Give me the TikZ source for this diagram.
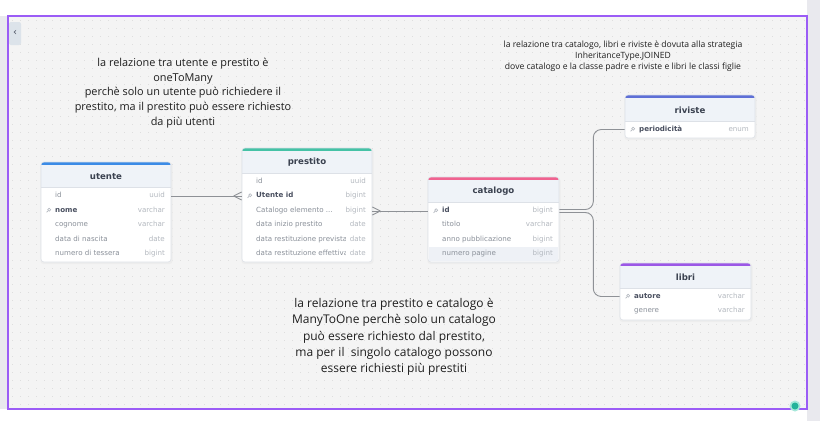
\documentclass[tikz,border=0pt]{standalone}
\usepackage{fontspec}
\setmainfont{DejaVu Sans}
\newfontfamily\notefont{Open Sans}
\usetikzlibrary{calc,fit}
\definecolor{framepurple}{HTML}{9B5CF6}
\definecolor{canvasbg}{HTML}{F4F4F4}
\definecolor{sidebg}{HTML}{E9E9EE}
\definecolor{gridcol}{HTML}{DEDEDE}
\definecolor{bordercol}{HTML}{DDE1E7}
\definecolor{hdrfill}{HTML}{EFF3F8}
\definecolor{titlecol}{HTML}{3B4250}
\definecolor{namecol}{HTML}{8A9099}
\definecolor{keycol}{HTML}{4A5060}
\definecolor{typecol}{HTML}{B3B8BF}
\definecolor{conncol}{HTML}{8E9196}
\definecolor{cblue}{HTML}{3B8BE6}
\definecolor{cteal}{HTML}{45C2A6}
\definecolor{cpink}{HTML}{F0628F}
\definecolor{cindigo}{HTML}{5E6FD6}
\definecolor{cpurple}{HTML}{9B57E6}
\definecolor{notecol}{HTML}{1E1E1E}
\definecolor{btnfill}{HTML}{DCE3EA}
\definecolor{dotteal}{HTML}{22B39A}
\definecolor{dotring}{HTML}{A6E8DA}
\definecolor{rowhl}{HTML}{EEF1F6}
\tikzset{
  tbltitle/.style={font=\fontsize{8.6}{11}\selectfont\bfseries, text=titlecol, inner sep=0},
  rowname/.style={font=\fontsize{7.1}{9}\selectfont, text=namecol, inner sep=0, text height=5.3pt, text depth=1.5pt, anchor=west},
  keyname/.style={rowname, text=keycol, font=\fontsize{7.1}{9}\selectfont\bfseries},
  rowtype/.style={font=\fontsize{7.1}{9}\selectfont, text=typecol, inner sep=0, text height=5.3pt, text depth=1.5pt, anchor=east},
  conn/.style={draw=conncol, line width=0.9pt},
  keyicon/.style={draw=typecol, line width=0.6pt},
  note/.style={font=\notefont, text=notecol, align=center, inner sep=0},
  tblbox/.style={inner sep=0, draw=bordercol, line width=0.6pt, rounded corners=3pt}
}
% #1 name, #2 x0, #3 y0, #4 x1, #5 y1, #6 header bottom, #7 colour, #8 title
\newcommand\erdtab[8]{%
  \fill[black!7, rounded corners=3pt] (#2-0.5,#3+0.5) rectangle (#4+1.5,#5+2);
  \fill[white, rounded corners=3pt] (#2,#3) rectangle (#4,#5);
  \begin{scope}
    \clip[rounded corners=3pt] (#2,#3) rectangle (#4,#5);
    \fill[hdrfill] (#2,#3) rectangle (#4,#6);
    \fill[#7] (#2,#3) rectangle (#4,#3+3);
  \end{scope}
  \draw[bordercol, line width=0.6pt] (#2,#6) -- (#4,#6);
  \node[tblbox, fit={(#2,#3) (#4,#5)}] (#1) {};
  \node[tbltitle] (#1-title) at ({(#2+#4)/2},{(#3+#6)/2+2}) {#8};
}
% #1 x0, #2 x1, #3 y, #4 name, #5 label, #6 type
\newcommand\erdrow[6]{%
  \node[rowname] (#4) at (#1+14,#3) {#5};
  \node[rowtype] (#4-t) at (#2-6,#3) {#6};
}
\newcommand\erdkey[6]{%
  \draw[keyicon] (#1+8.2,#3-0.8) circle (1.5pt);
  \draw[keyicon] (#1+7.1,#3+0.3) -- (#1+5.6,#3+1.8);
  \node[keyname] (#4) at (#1+14,#3) {#5};
  \node[rowtype] (#4-t) at (#2-6,#3) {#6};
}
\begin{document}
\begin{tikzpicture}[x=1pt,y=-1pt]
\useasboundingbox (0,0) rectangle (820,421);
% page background
\fill[white] (0,0) rectangle (820,421);
\fill[sidebg] (807,0) rectangle (820,421);
\fill[sidebg] (0,16) rectangle (8,409);
% canvas
\fill[canvasbg] (8,16) rectangle (807,409);
\foreach \gy in {20,28,...,404}{
  \draw[gridcol, line width=0.8pt, dash pattern=on 0.8pt off 7.2pt] (12,\gy) -- (805,\gy);
}
\draw[framepurple, line width=2pt] (8,16) rectangle (807,409);
% collapse button
\fill[btnfill, rounded corners=2pt] (9,22) rectangle (21,45);
\node[font=\fontsize{10}{11}\selectfont, text=keycol, inner sep=0] (btn) at (15,33) {‹};

% notes
\node[note, font=\notefont\fontsize{10.9}{14.8}\selectfont] (note1) at (183,93) {la relazione tra utente e prestito è\\oneToMany\\perchè solo un utente può richiedere il\\prestito, ma il prestito può essere richiesto\\da più utenti};
\node[note, font=\notefont\fontsize{8.6}{11}\selectfont] (note2) at (623,56) {la relazione tra catalogo, libri e riviste è dovuta alla strategia\\InheritanceType.JOINED\\dove catalogo e la classe padre e riviste e libri le classi figlie};
\node[note, font=\notefont\fontsize{12}{16.3}\selectfont] (note3) at (394,337) {la relazione tra prestito e catalogo è\\ManyToOne perchè solo un catalogo\\può essere richiesto dal prestito,\\ma per il\ \ singolo catalogo possono\\essere richiesti più prestiti};

% tables
\erdtab{utente}{41}{162}{171}{262}{187}{cblue}{utente}
\erdrow{41}{171}{196}{u-id}{id}{uuid}
\erdkey{41}{171}{210.5}{u-nome}{nome}{varchar}
\erdrow{41}{171}{225}{u-cog}{cognome}{varchar}
\erdrow{41}{171}{239.5}{u-nasc}{data di nascita}{date}
\erdrow{41}{171}{254}{u-tess}{numero di tessera}{bigint}

\erdtab{prestito}{242}{148}{372}{262}{173}{cteal}{prestito}
\erdrow{242}{372}{182}{p-id}{id}{uuid}
\erdkey{242}{372}{196}{p-uid}{Utente id}{bigint}
\erdrow{242}{372}{211}{p-cat}{Catalogo elemento ...}{bigint}
\erdrow{242}{372}{225}{p-ini}{data inizio prestito}{date}
\begin{scope}
  \clip (250,232) rectangle (345,262);
  \erdrow{242}{500}{239.5}{p-prev}{data restituzione prevista}{}
  \erdrow{242}{500}{254}{p-eff}{data restituzione effettiva}{}
\end{scope}
\node[rowtype] (p-prev-type) at (366,239.5) {date};
\node[rowtype] (p-eff-type) at (366,254) {date};

\erdtab{catalogo}{428}{177}{559}{262}{202}{cpink}{catalogo}
\fill[rowhl] (429,247) rectangle (558,261.4);
\erdkey{428}{559}{211}{c-id}{id}{bigint}
\erdrow{428}{559}{225}{c-tit}{titolo}{varchar}
\erdrow{428}{559}{239.5}{c-anno}{anno pubblicazione}{bigint}
\erdrow{428}{559}{254}{c-pag}{numero pagine}{bigint}

\erdtab{riviste}{625}{95}{755}{138}{121}{cindigo}{riviste}
\erdkey{625}{755}{129.5}{r-per}{periodicità}{enum}

\erdtab{libri}{620}{263}{751}{320}{288}{cpurple}{libri}
\erdkey{620}{751}{296.5}{l-aut}{autore}{varchar}
\erdrow{620}{751}{311}{l-gen}{genere}{varchar}

% connectors
\coordinate (e-u) at (u-id -| utente.east);
\coordinate (e-pu) at (u-id -| prestito.west);
\draw[conn] (e-u) -- (e-pu);
\draw[conn] ($(e-pu)+(-8,0)$) -- ($(e-pu)+(0,-4)$);
\draw[conn] ($(e-pu)+(-8,0)$) -- ($(e-pu)+(0,4)$);

\coordinate (e-pc) at (p-cat -| prestito.east);
\coordinate (e-c) at (p-cat -| catalogo.west);
\draw[conn] (e-pc) -- (e-c);
\draw[conn] ($(e-pc)+(8,0)$) -- ($(e-pc)+(0,-4)$);
\draw[conn] ($(e-pc)+(8,0)$) -- ($(e-pc)+(0,4)$);

\coordinate (e-cr) at ($(c-id -| catalogo.east)+(0,-1.5)$);
\coordinate (e-cl) at ($(c-id -| catalogo.east)+(0,1.5)$);
\draw[conn, rounded corners=8pt] (e-cr) -- ($(e-cr)+(34,0)$) |- (r-per -| riviste.west);
\draw[conn, rounded corners=8pt] (e-cl) -- ($(e-cl)+(34,0)$) |- (l-aut -| libri.west);

% status dot
\fill[dotring] (795,406) circle (5.5pt);
\fill[dotteal] (795,406) circle (3.5pt);
\end{tikzpicture}
\end{document}
